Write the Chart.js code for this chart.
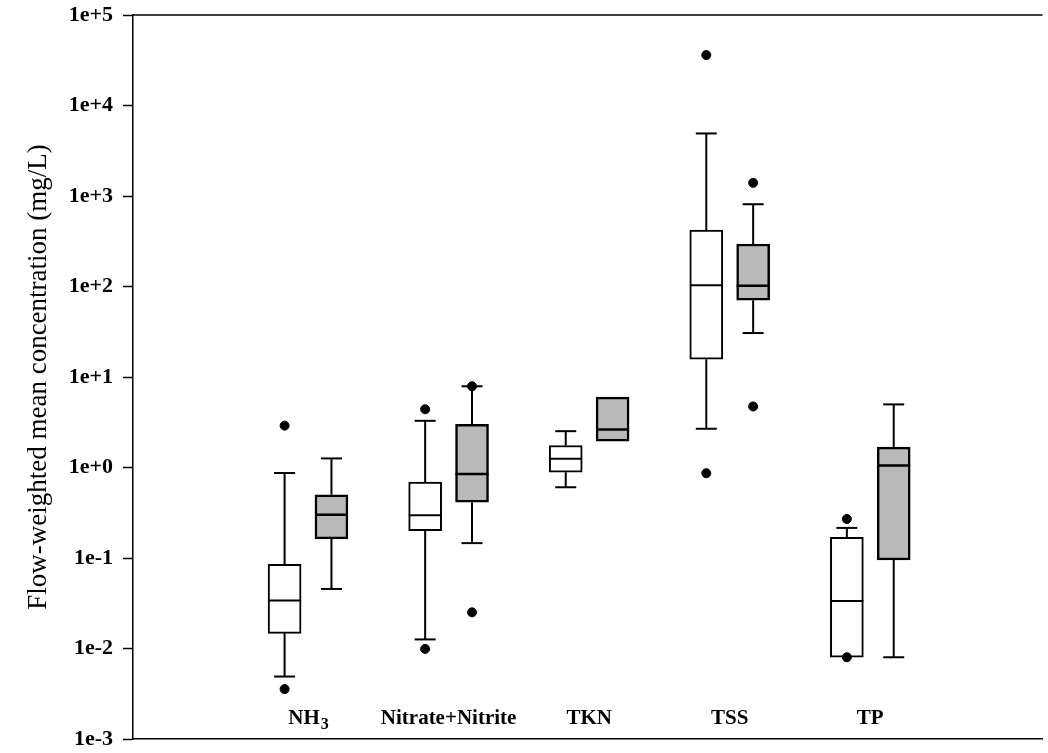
<!DOCTYPE html>
<html>
<head>
<meta charset="utf-8">
<script src="https://cdn.jsdelivr.net/npm/chart.js@4.4.1/dist/chart.umd.min.js"></script>
<style>
  html, body { margin: 0; padding: 0; background: #fff; }
</style>
</head>
<body>
<canvas id="chart" width="1048" height="753"></canvas>
<script>
// categories along the bottom
const categories = ["NH3", "Nitrate+Nitrite", "TKN", "TSS", "TP"];

// first box of each pair (open boxes)
const whiteLow  = [0.0049, 0.0126, 0.605, 2.68, 0.008];
const whiteQ1   = [0.0147, 0.201, 0.887, 15.7, 0.008];
const whiteMed  = [0.034, 0.297, 1.25, 103, 0.0335];
const whiteQ3   = [0.085, 0.69, 1.75, 419, 0.169];
const whiteHigh = [0.87, 3.28, 2.52, 4910, 0.215];
const whiteOut  = [[0.00356, 2.9], [0.0099, 4.4], [], [0.865, 36100], [0.008, 0.27]];

// second box of each pair (shaded boxes)
const grayLow  = [0.0455, 0.146, 1.95, 30.6, 0.008];
const grayQ1   = [0.163, 0.413, 1.95, 70.4, 0.095];
const grayMed  = [0.30, 0.85, 2.63, 102, 1.05];
const grayQ3   = [0.50, 2.99, 6.0, 295, 1.68];
const grayHigh = [1.26, 7.9, 6.0, 811, 4.98];
const grayOut  = [[], [0.0251, 7.9], [], [4.73, 1397], []];

// y axis decades (exponents)
const decades = [-3, -2, -1, 0, 1, 2, 3, 4, 5];

const SERIF = "'Liberation Serif', 'Times New Roman', serif";
const PAIR_OFFSET = 0.1667;
const BOX_PX = 33;
const CAP_PX = 21;

const groups = [
    {offset: -PAIR_OFFSET, low: whiteLow, q1: whiteQ1, med: whiteMed, q3: whiteQ3, high: whiteHigh, out: whiteOut,
     fill: "#ffffff", border: 2, medWidth: 2},
    {offset: PAIR_OFFSET, low: grayLow, q1: grayQ1, med: grayMed, q3: grayQ3, high: grayHigh, out: grayOut,
     fill: "#b9b9b9", border: 2.5, medWidth: 2.5}
];

function boxDataset(g) {
    return {
        type: "bar",
        data: categories.map((c, i) => ({x: i + 1 + g.offset, y: [g.q1[i], g.q3[i]]})),
        backgroundColor: g.fill,
        borderColor: "#000",
        borderWidth: g.border,
        borderSkipped: false,
        barThickness: BOX_PX,
        grouped: false,
        order: 2
    };
}

function outlierPoints() {
    let pts = [];
    groups.forEach(g => {
        g.out.forEach((list, i) => {
            list.forEach(v => pts.push({x: i + 1 + g.offset, y: v}));
        });
    });
    return pts;
}

function line(ctx, x1, y1, x2, y2) {
    ctx.beginPath();
    ctx.moveTo(x1, y1);
    ctx.lineTo(x2, y2);
    ctx.stroke();
}

// whiskers, caps, medians, frame top and the category labels inside the plot
const boxExtras = {
    id: "boxExtras",
    afterDatasetsDraw(chart) {
        const ctx = chart.ctx;
        const xs = chart.scales.x, ys = chart.scales.y;
        const area = chart.chartArea;
        ctx.save();
        ctx.strokeStyle = "#000";
        ctx.lineWidth = 1.5;
        line(ctx, area.left, area.top, area.right, area.top);

        groups.forEach(g => {
            categories.forEach((c, i) => {
                const cx = xs.getPixelForValue(i + 1 + g.offset);
                ctx.lineWidth = 2;
                if (g.high[i] > g.q3[i]) {
                    const yt = ys.getPixelForValue(g.high[i]);
                    line(ctx, cx, ys.getPixelForValue(g.q3[i]), cx, yt);
                    line(ctx, cx - CAP_PX / 2, yt, cx + CAP_PX / 2, yt);
                }
                if (g.low[i] < g.q1[i]) {
                    const yb = ys.getPixelForValue(g.low[i]);
                    line(ctx, cx, ys.getPixelForValue(g.q1[i]), cx, yb);
                    line(ctx, cx - CAP_PX / 2, yb, cx + CAP_PX / 2, yb);
                }
                ctx.lineWidth = g.medWidth;
                const ym = ys.getPixelForValue(g.med[i]);
                line(ctx, cx - BOX_PX / 2, ym, cx + BOX_PX / 2, ym);
            });
        });

        // category names, digits drawn as subscripts
        ctx.fillStyle = "#000";
        ctx.textBaseline = "alphabetic";
        const baseY = area.bottom - 15;
        categories.forEach((c, i) => {
            const cx = xs.getPixelForValue(i + 1);
            const m = c.match(/^([A-Za-z]+)(\d)$/);
            if (m) {
                ctx.font = "bold 21px " + SERIF;
                const w1 = ctx.measureText(m[1]).width;
                ctx.font = "bold 16px " + SERIF;
                const w2 = ctx.measureText(m[2]).width;
                const x0 = cx - (w1 + w2) / 2;
                ctx.textAlign = "left";
                ctx.font = "bold 21px " + SERIF;
                ctx.fillText(m[1], x0, baseY);
                ctx.font = "bold 16px " + SERIF;
                ctx.fillText(m[2], x0 + w1 + 1, baseY + 5);
            } else {
                ctx.font = "bold 21px " + SERIF;
                ctx.textAlign = "center";
                ctx.fillText(c, cx, baseY);
            }
        });
        ctx.restore();
    }
};

const chart = new Chart(document.getElementById("chart"), {
    type: "bar",
    data: {
        datasets: [
            boxDataset(groups[0]),
            boxDataset(groups[1]),
            {
                type: "scatter",
                data: outlierPoints(),
                backgroundColor: "#000",
                borderColor: "#000",
                pointRadius: 4.5,
                pointHoverRadius: 4.5,
                order: 1
            }
        ]
    },
    options: {
        responsive: false,
        animation: false,
        devicePixelRatio: 1,
        layout: {padding: {top: 15, right: 0, bottom: 14, left: 0}},
        plugins: {legend: {display: false}, tooltip: {enabled: false}},
        scales: {
            x: {
                type: "linear",
                min: 0.217,
                max: 5.763,
                grid: {display: false, drawTicks: false},
                ticks: {display: false},
                border: {display: true, color: "#000", width: 1.5},
                afterFit(scale) { scale.height = 0; }
            },
            y: {
                type: "logarithmic",
                min: 1e-3,
                max: 1e5,
                afterBuildTicks(scale) {
                    scale.ticks = decades.map(e => ({value: Math.pow(10, e)}));
                },
                afterFit(scale) {
                    scale.width = 133;
                    scale.paddingTop = 0;
                    scale.paddingBottom = 0;
                },
                grid: {drawOnChartArea: false, drawTicks: true, tickLength: 10, tickColor: "#000", tickWidth: 1.5},
                border: {display: true, color: "#000", width: 1.5},
                ticks: {
                    padding: 10,
                    color: "#000",
                    font: {family: SERIF, size: 22, weight: "bold"},
                    callback(value) {
                        const e = Math.round(Math.log10(value));
                        return "1e" + (e < 0 ? "-" : "+") + Math.abs(e);
                    }
                },
                title: {
                    display: true,
                    text: "Flow-weighted mean concentration (mg/L)",
                    color: "#000",
                    font: {family: SERIF, size: 27, weight: "normal"},
                    padding: {top: 23, bottom: 0}
                }
            }
        }
    },
    plugins: [boxExtras]
});
</script>
</body>
</html>
